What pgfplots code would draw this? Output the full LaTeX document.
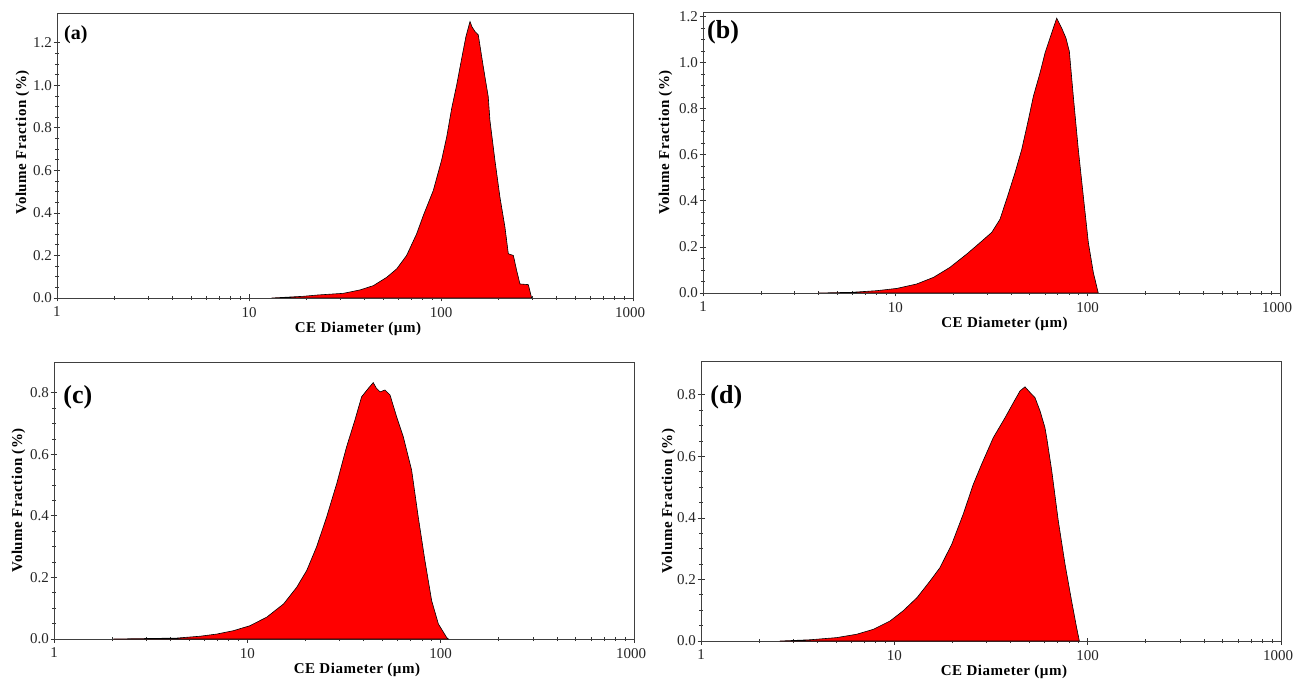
\documentclass[border=0pt]{standalone}
\usepackage{pgfplots}
\pgfplotsset{compat=1.18}
\usepackage{fontspec}
\setmainfont{Liberation Serif}
\newfontfamily\labelfont[LetterSpace=3.5]{Liberation Serif}

\pgfplotsset{
  scale only axis,
  ymin=0,
  tick pos=left, tick align=center,
  major tick length=7pt, minor tick length=4pt,
  minor y tick num=3,
  axis line style={black!75, line width=0.9pt},
  tick style={black!80, line width=0.8pt},
  tick label style={font=\fontsize{15}{17}\selectfont, text=black!85},
  yticklabel style={/pgf/number format/fixed,
    /pgf/number format/fixed zerofill,
    /pgf/number format/precision=1,
    /pgf/number format/assume math mode=true, xshift=2pt},
  xticklabel style={yshift=-2pt},
  label style={font=\labelfont\fontsize{15}{17}\selectfont\bfseries},
  xlabel style={xshift=13pt, yshift=2pt},
}

\begin{document}
\begin{tikzpicture}
\useasboundingbox (0pt,0pt) rectangle (1293pt,678pt);

% (a)
\begin{axis}[anchor=south west, at={(57pt,380pt)}, width=576pt, height=285pt,
  xmode=log, xmin=1, xmax=1000,
  xtick={1,10,100,1000}, xticklabels={1,10,100,{\kern-6pt 1000}},
  ymax=1.34, ytick={0,0.2,...,1.2},
  xlabel={CE Diameter (µm)}, ylabel={Volume Fraction (\%)},
  ylabel style={yshift=-3pt, xshift=13pt}]
\addplot[fill=red, draw=black, line width=0.6pt] coordinates {
  (13.1,0.0)(19.2,0.008)(22.7,0.014)(31.0,0.022)(37.9,0.038)(44.4,0.058)
  (52.1,0.097)(58.8,0.137)(66.2,0.200)(74.7,0.302)(80.9,0.388)(91.2,0.506)
  (100.7,0.648)(107.1,0.758)(113.7,0.892)(120.7,1.002)(128.2,1.127)
  (134.9,1.230)(141.6,1.300)(145.0,1.275)(150.3,1.253)(156.4,1.237)
  (166.0,1.088)(176.2,0.947)(179.8,0.836)(190.9,0.648)(202.7,0.475)
  (215.3,0.333)(224.2,0.208)(238.2,0.200)(247.8,0.129)(257.8,0.066)
  (285.0,0.063)(296.6,0.0)
} \closedcycle;
\node[anchor=north west, inner sep=0pt, font=\fontsize{20}{22}\selectfont\bfseries]
  at (rel axis cs:0.012,0.955) {(a)};
\end{axis}

% (b)
\begin{axis}[anchor=south west, at={(703pt,385pt)}, width=577pt, height=281pt,
  xmode=log, xmin=1, xmax=1000,
  xtick={1,10,100,1000}, xticklabels={1,10,100,{\kern-6pt 1000}},
  ymax=1.22, ytick={0,0.2,...,1.2},
  xlabel={CE Diameter (µm)}, ylabel={Volume Fraction (\%)},
  ylabel style={yshift=0pt, xshift=10pt}]
\addplot[fill=red, draw=black, line width=0.6pt] coordinates {
  (3.98,0.0)(5.93,0.003)(8.0,0.010)(10.2,0.020)(12.9,0.039)(15.8,0.068)
  (19.2,0.111)(23.5,0.169)(27.6,0.219)(31.7,0.263)(35.0,0.320)(37.9,0.407)
  (41.9,0.522)(45.4,0.623)(49.2,0.753)(52.2,0.854)(56.5,0.955)(60.0,1.042)
  (63.7,1.107)(69.0,1.193)(73.3,1.150)(77.1,1.107)(80.3,1.049)(84.2,0.854)
  (89.4,0.623)(94.9,0.421)(100.8,0.219)(107.0,0.089)(113.5,0.0)
} \closedcycle;
\node[anchor=north west, inner sep=0pt, font=\fontsize{26}{28}\selectfont\bfseries]
  at (rel axis cs:0.007,0.97) {(b)};
\end{axis}

% (c)
\begin{axis}[anchor=south west, at={(54pt,39pt)}, width=580pt, height=277pt,
  xmode=log, xmin=1, xmax=1000,
  xtick={1,10,100,1000}, xticklabels={1,10,100,{\kern-6pt 1000}},
  ymax=0.9, ytick={0,0.2,...,0.8},
  xlabel={CE Diameter (µm)}, ylabel={Volume Fraction (\%)},
  ylabel style={yshift=-2pt}]
\addplot[fill=red, draw=black, line width=0.6pt] coordinates {
  (2.03,0.0)(4.31,0.003)(5.69,0.009)(6.94,0.016)(8.47,0.027)(10.3,0.043)
  (12.6,0.071)(15.4,0.114)(18.0,0.168)(20.3,0.223)(22.8,0.299)(25.7,0.396)
  (29.0,0.505)(32.6,0.624)(36.0,0.711)(39.0,0.787)(42.2,0.814)(44.8,0.833)
  (46.5,0.815)(48.6,0.803)(51.5,0.809)(54.7,0.793)(59.2,0.722)(64.1,0.657)
  (70.8,0.548)(76.6,0.396)(82.9,0.255)(89.8,0.125)(97.3,0.049)(107.4,0.005)
  (109.6,0.0)
} \closedcycle;
\node[anchor=north west, inner sep=0pt, font=\fontsize{26}{28}\selectfont\bfseries]
  at (rel axis cs:0.016,0.915) {(c)};
\end{axis}

% (d)
\begin{axis}[anchor=south west, at={(701pt,37pt)}, width=580pt, height=280pt,
  xmode=log, xmin=1, xmax=1000,
  xtick={1,10,100,1000}, xticklabels={1,10,100,{\kern-6pt 1000}},
  ymax=0.91, ytick={0,0.2,...,0.8},
  xlabel={CE Diameter (µm)}, ylabel={Volume Fraction (\%)},
  ylabel style={yshift=-5pt}]
\addplot[fill=red, draw=black, line width=0.6pt] coordinates {
  (2.56,0.0)(3.66,0.004)(5.03,0.011)(6.39,0.022)(7.79,0.038)(9.50,0.065)
  (11.1,0.098)(13.1,0.141)(15.3,0.195)(17.2,0.238)(19.8,0.314)(22.7,0.412)
  (25.6,0.509)(28.3,0.575)(32.5,0.661)(37.4,0.726)(41.3,0.775)(44.7,0.813)
  (47.4,0.826)(50.3,0.808)(53.4,0.791)(56.7,0.748)(60.1,0.694)(61.4,0.661)
  (65.2,0.553)(70.5,0.390)(76.4,0.249)(82.6,0.130)(87.7,0.043)(90.6,0.0)
} \closedcycle;
\node[anchor=north west, inner sep=0pt, font=\fontsize{26}{28}\selectfont\bfseries]
  at (rel axis cs:0.016,0.915) {(d)};
\end{axis}
\end{tikzpicture}
\end{document}
